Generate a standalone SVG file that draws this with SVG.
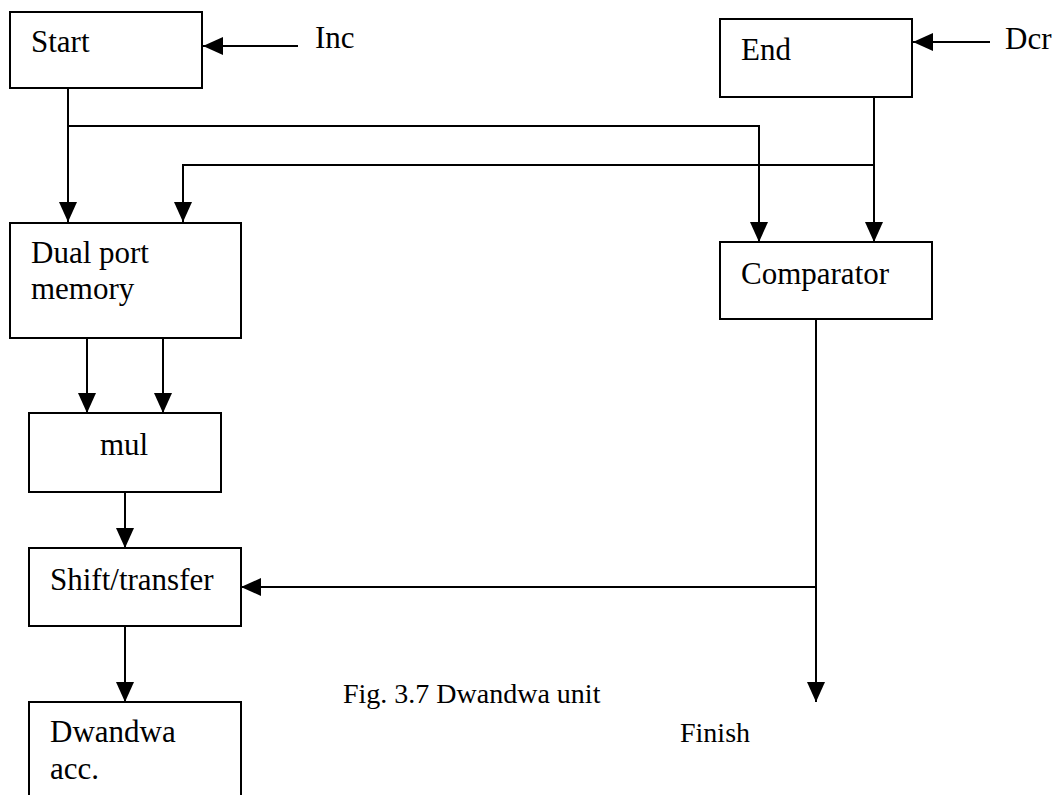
<svg xmlns="http://www.w3.org/2000/svg" width="1058" height="795" viewBox="0 0 1058 795">
<style>
.box{fill:#fff;stroke:#000;stroke-width:2}
.ln{fill:none;stroke:#000;stroke-width:2}
text{font-family:"Liberation Serif","Times New Roman",serif;font-size:31px;fill:#000}
.sm{font-size:28px}
</style>
<defs>
<marker id="ah" markerUnits="userSpaceOnUse" markerWidth="20" markerHeight="20" refX="20" refY="9" orient="auto">
<polygon points="0,0 20,9 0,18" fill="#000"/>
</marker>
</defs>
<g id="start"><rect class="box" x="10" y="12" width="192" height="76"/><text x="31" y="52">Start</text></g>
<g id="end"><rect class="box" x="720" y="19" width="192" height="78"/><text x="741" y="60">End</text></g>
<g id="inc"><text x="315" y="48">Inc</text></g>
<g id="dcr"><text x="1005" y="49">Dcr</text></g>
<g id="dualport"><rect class="box" x="10" y="223" width="231" height="115"/><text x="31" y="263">Dual port</text><text x="31" y="299">memory</text></g>
<g id="comparator"><rect class="box" x="720" y="242" width="212" height="77"/><text x="741" y="284">Comparator</text></g>
<g id="mul"><rect class="box" x="29" y="413" width="192" height="79"/><text x="100" y="455">mul</text></g>
<g id="shift"><rect class="box" x="29" y="548" width="212" height="78"/><text x="50" y="590">Shift/transfer</text></g>
<g id="dwandwa"><rect class="box" x="29" y="702" width="212" height="110"/><text x="50" y="742">Dwandwa</text><text x="50" y="779">acc.</text></g>
<g id="finish"><text class="sm" x="680" y="742">Finish</text></g>
<g id="caption"><text class="sm" x="343" y="703">Fig. 3.7 Dwandwa unit</text></g>
<g id="connectors">
<path class="ln" d="M298,46 H203" marker-end="url(#ah)"/>
<path class="ln" d="M990,42 H913" marker-end="url(#ah)"/>
<path class="ln" d="M68,88 V222" marker-end="url(#ah)"/>
<path class="ln" d="M68,126 H759 V242" marker-end="url(#ah)"/>
<path class="ln" d="M874,97 V242" marker-end="url(#ah)"/>
<path class="ln" d="M874,165 H183 V222" marker-end="url(#ah)"/>
<path class="ln" d="M87,338 V413" marker-end="url(#ah)"/>
<path class="ln" d="M163,338 V413" marker-end="url(#ah)"/>
<path class="ln" d="M125,492 V548" marker-end="url(#ah)"/>
<path class="ln" d="M125,626 V702" marker-end="url(#ah)"/>
<path class="ln" d="M816,319 V702" marker-end="url(#ah)"/>
<path class="ln" d="M816,587 H241" marker-end="url(#ah)"/>
</g>
</svg>
